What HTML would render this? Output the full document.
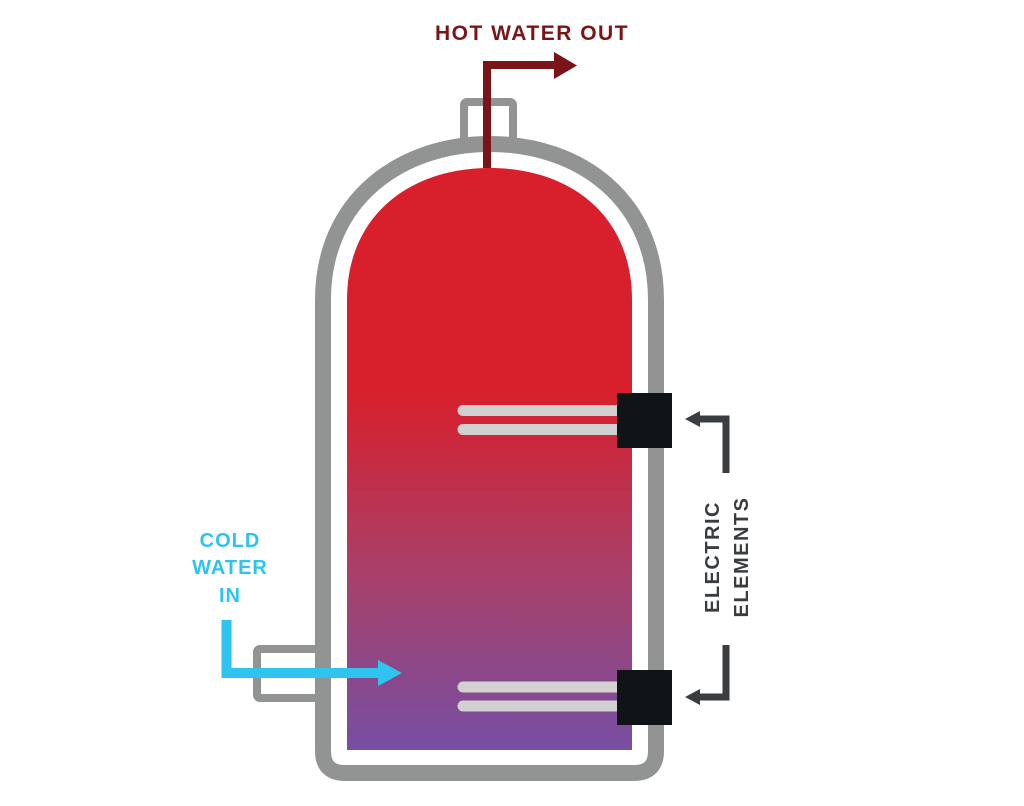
<!DOCTYPE html>
<html><head><meta charset="utf-8"><style>
html,body{margin:0;padding:0;background:#fff;}
svg{display:block;}
text{font-family:"Liberation Sans",sans-serif;font-weight:bold;}
</style></head><body>
<svg width="1024" height="806" viewBox="0 0 1024 806" xmlns="http://www.w3.org/2000/svg">
<defs>
<linearGradient id="g" gradientUnits="userSpaceOnUse" x1="0" y1="168" x2="0" y2="750">
<stop offset="0" stop-color="#d81f2c"/>
<stop offset="0.38" stop-color="#d81f2c"/>
<stop offset="0.7" stop-color="#a8406a"/>
<stop offset="1" stop-color="#764ea2"/>
</linearGradient>
</defs>
<rect x="464" y="102" width="49" height="44" rx="3" fill="none" stroke="#919493" stroke-width="8"/>
<rect x="257" y="649" width="62" height="49" rx="3" fill="none" stroke="#919493" stroke-width="8"/>
<path d="M323,300 C323,200 400,144 490,144 C580,144 656,200 656,300 L656,751 Q656,773 634,773 L345,773 Q323,773 323,751 Z" fill="#fff" stroke="#919493" stroke-width="16"/>
<path d="M347,300 C347,215 410,168 490,168 C570,168 632,215 632,300 L632,750 L347,750 Z" fill="url(#g)"/>
<path d="M487,168 L487,65 L557,65" fill="none" stroke="#7b1416" stroke-width="8"/>
<polygon points="554,52 577,65.5 554,79" fill="#7b1416"/>
<text x="532" y="40" font-size="21" fill="#7b1416" text-anchor="middle" letter-spacing="1.5">HOT WATER OUT</text>
<g stroke="#d0d1d0" stroke-width="11" stroke-linecap="round">
<line x1="463" y1="410.5" x2="620" y2="410.5"/>
<line x1="463" y1="429.5" x2="620" y2="429.5"/>
<line x1="463" y1="687" x2="620" y2="687"/>
<line x1="463" y1="706" x2="620" y2="706"/>
</g>
<rect x="617" y="393" width="55" height="55" fill="#111416"/>
<rect x="617" y="670" width="55" height="55" fill="#111416"/>
<g fill="none" stroke="#3a3d40" stroke-width="7">
<path d="M726,473 L726,419 L696,419"/>
<path d="M726,645 L726,697 L696,697"/>
</g>
<polygon points="685,419 700,411 700,427" fill="#3a3d40"/>
<polygon points="685,697 700,689 700,705" fill="#3a3d40"/>
<text transform="translate(719,557) rotate(-90)" font-size="20" fill="#3a3d40" text-anchor="middle" letter-spacing="1.5">ELECTRIC</text>
<text transform="translate(748,557) rotate(-90)" font-size="20" fill="#3a3d40" text-anchor="middle" letter-spacing="1.5">ELEMENTS</text>
<path d="M226.5,620 L226.5,673 L382,673" fill="none" stroke="#2ec4ef" stroke-width="10"/>
<polygon points="378,660 402,673 378,686" fill="#2ec4ef"/>
<g font-size="20" fill="#2ec4ef" text-anchor="middle" letter-spacing="1">
<text x="230" y="547">COLD</text>
<text x="230" y="574">WATER</text>
<text x="230" y="602">IN</text>
</g>
</svg>
</body></html>
